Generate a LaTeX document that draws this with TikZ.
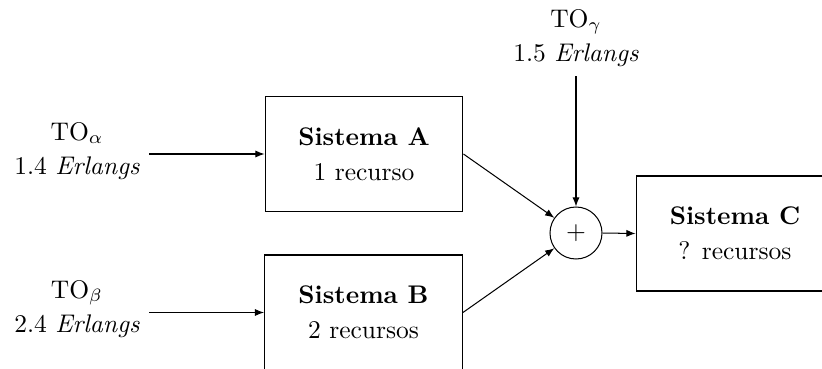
\documentclass[tikz,border=0pt]{standalone}
\usetikzlibrary{arrows.meta}
\begin{document}
\begin{tikzpicture}[x=0.39216pt,y=-0.39216pt,
  box/.style={draw, minimum width=77.6pt, minimum height=45.1pt, align=center, inner sep=0pt},
  lab/.style={align=center, inner sep=3.5pt},
  conn/.style={-{Latex[length=3.6pt,width=2.8pt]}}]
\useasboundingbox (0,0) rectangle (822,369);
\clip (0,0) rectangle (822,369);
\node[box] (A) at (364,154) {{\bfseries Sistema A}\\[1.6pt]1 recurso};
\node[box] (B) at (363.5,312.5) {{\bfseries Sistema B}\\[1.6pt]2 recursos};
\node[box] (C) at (735,233.5) {{\bfseries Sistema C}\\[1.6pt]? recursos};
\node[circle, draw, minimum size=20.4pt, inner sep=0pt] (S) at (576,233) {$+$};
\node[lab] (la) at (77,151) {TO$_\alpha$\\[1.6pt]1.4 \textit{Erlangs}};
\node[lab] (lb) at (77,309) {TO$_\beta$\\[1.6pt]2.4 \textit{Erlangs}};
\node[lab] (lg) at (576,38) {TO$_\gamma$\\[1.6pt]1.5 \textit{Erlangs}};
\draw[conn] (A.west -| la.east) -- (A.west);
\draw[conn] (lb.east |- B.west) -- (B.west);
\draw[conn] (lg.south) -- (S.north);
\draw[conn] (A.east) -- (S);
\draw[conn] (B.east) -- (S);
\draw[conn] (S.east) -- (C.west);
\end{tikzpicture}
\end{document}
